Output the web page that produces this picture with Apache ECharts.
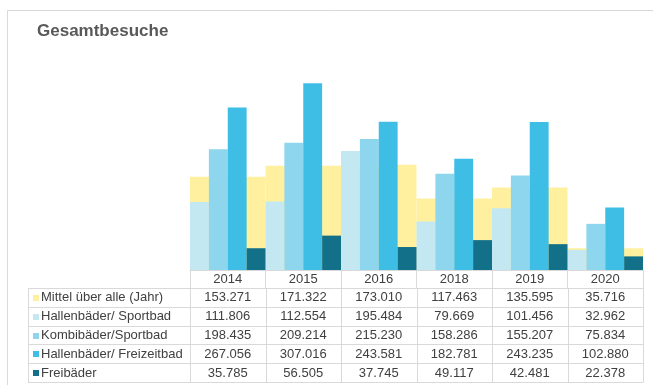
<!DOCTYPE html>
<html>
<head>
<meta charset="utf-8">
<script src="https://cdn.jsdelivr.net/npm/echarts@6/dist/echarts.min.js"></script>
<style>
html,body{margin:0;padding:0;background:#fff;}
#c{width:653px;height:385px;}
</style>
</head>
<body>
<div id="c"></div>
<script>
var years = ['2014', '2015', '2016', '2018', '2019', '2020'];
var seriesNames = ['Mittel über alle (Jahr)', 'Hallenbäder/ Sportbad', 'Kombibäder/Sportbad', 'Hallenbäder/ Freizeitbad', 'Freibäder'];
var mittel = [153271, 171322, 173010, 117463, 135595, 35716];
var hallenSport = [111806, 112554, 195484, 79669, 101456, 32962];
var kombiSport = [198435, 209214, 215230, 158286, 155207, 75834];
var hallenFrei = [267056, 307016, 243581, 182781, 243235, 102880];
var freibaeder = [35785, 56505, 37745, 49117, 42481, 22378];
var colors = ['#FFF0A0', '#C4E8F2', '#8ED5EE', '#3EBEE4', '#137089'];

var allData = [mittel, hallenSport, kombiSport, hallenFrei, freibaeder];

function fmt(v) {
  var s = String(v);
  var out = '';
  while (s.length > 3) { out = '.' + s.slice(-3) + out; s = s.slice(0, -3); }
  return s + out;
}

var chart = echarts.init(document.getElementById('c'), null, {renderer: 'canvas'});
var FONT = 'Liberation Sans, Arial, sans-serif';
var TXT = '#404040';
var LINE = '#d9d9d9';

var series = [{
  name: seriesNames[0], type: 'bar', xAxisIndex: 1, yAxisIndex: 0,
  data: mittel, barCategoryGap: '0%', barGap: '0%', z: 1,
  itemStyle: {color: colors[0]}, silent: true
}];
for (var i = 1; i < 5; i++) {
  series.push({
    name: seriesNames[i], type: 'bar', xAxisIndex: 0, yAxisIndex: 0,
    data: allData[i], barCategoryGap: '0%', barGap: '0%', z: 3,
    itemStyle: {color: colors[i]}, silent: true
  });
}

chart.setOption({
  animation: false,
  backgroundColor: '#fff',
  grid: {left: 190, right: 10, top: 57, bottom: 115},
  xAxis: [{
    type: 'category', data: years,
    axisLine: {show: true, lineStyle: {color: LINE, width: 1}},
    axisTick: {show: true, interval: 0, length: 18, lineStyle: {color: LINE}},
    axisLabel: {color: TXT, fontSize: 13, fontFamily: FONT, margin: 3}
  }, {
    type: 'category', data: years, show: false
  }],
  yAxis: [{type: 'value', min: 0, max: 350000, show: false, splitLine: {show: false}}],
  series: series
});

// Build data table under the axis using axis positions
var n = years.length;
var c0 = chart.convertToPixel({xAxisIndex: 0}, 0);
var c1 = chart.convertToPixel({xAxisIndex: 0}, 1);
var bw = c1 - c0;
var leftB = c0 - bw / 2;
var rightB = leftB + bw * n;
var tableLeft = 28;
var rowTop = 288;
var rowH = 18.8;
var elems = [];

// outer frame
elems.push({type: 'line', shape: {x1: 7.5, y1: 10.5, x2: 653, y2: 10.5}, style: {stroke: LINE, lineWidth: 1}});
elems.push({type: 'line', shape: {x1: 7.5, y1: 10.5, x2: 7.5, y2: 385}, style: {stroke: LINE, lineWidth: 1}});
// title
elems.push({type: 'text', x: 37, y: 31, style: {text: 'Gesamtbesuche', font: 'bold 17px ' + FONT, fill: '#595959', textVerticalAlign: 'middle'}});

for (var r = 0; r <= 5; r++) {
  var y = Math.round(rowTop + r * rowH) + 0.5;
  elems.push({type: 'line', shape: {x1: tableLeft, y1: y, x2: rightB, y2: y}, style: {stroke: LINE, lineWidth: 1}});
}
var yBot = Math.round(rowTop + 5 * rowH) + 0.5;
elems.push({type: 'line', shape: {x1: tableLeft + 0.5, y1: rowTop, x2: tableLeft + 0.5, y2: yBot}, style: {stroke: LINE, lineWidth: 1}});
for (var k = 0; k <= n; k++) {
  var x = Math.round(leftB + k * bw) + 0.5;
  elems.push({type: 'line', shape: {x1: x, y1: rowTop, x2: x, y2: yBot}, style: {stroke: LINE, lineWidth: 1}});
}
for (var s = 0; s < 5; s++) {
  var cy = rowTop + s * rowH + rowH / 2 + 0.5;
  elems.push({type: 'rect', shape: {x: 33, y: Math.round(cy) - 3, width: 6, height: 6}, style: {fill: colors[s]}});
  elems.push({type: 'text', x: 41, y: cy, style: {text: seriesNames[s], font: '13px ' + FONT, fill: TXT, textVerticalAlign: 'middle'}});
  for (var j = 0; j < n; j++) {
    var cx = chart.convertToPixel({xAxisIndex: 0}, j);
    elems.push({type: 'text', x: cx, y: cy, style: {text: fmt(allData[s][j]), font: '13px ' + FONT, fill: TXT, textAlign: 'center', textVerticalAlign: 'middle'}});
  }
}
chart.setOption({graphic: {elements: elems}});
</script>
</body>
</html>
